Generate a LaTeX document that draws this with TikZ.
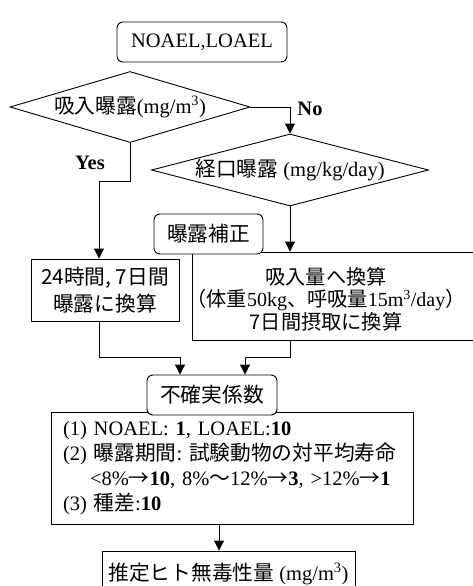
\documentclass[tikz,border=0pt]{standalone}
\usepackage{fontspec}
\setmainfont{Liberation Serif}
\newfontfamily\jp{Noto Sans CJK JP}[Scale=1.01]
\newcommand{\J}[1]{{\jp #1}}
\usetikzlibrary{shapes.geometric,arrows.meta}
\begin{document}
\begin{tikzpicture}[x=1pt,y=-1pt,
  font=\fontsize{20.5}{22}\selectfont,
  line width=0.9pt,
  >={Triangle[length=10pt,width=10pt]},
  box/.style={draw, fill=white, inner sep=0pt, align=center},
  rbox/.style={box, rounded corners=6pt},
  dia/.style={draw, diamond, aspect=3.8, inner sep=0pt, fill=white},
  lbl/.style={font=\fontsize{20.5}{22}\selectfont\bfseries}]
\useasboundingbox (0,0) rectangle (473,586);

\node[rbox, minimum width=170pt, minimum height=40pt] (start) at (202,42) {NOAEL,LOAEL};
\node[dia, minimum width=240pt, minimum height=71pt] (d1) at (130,107) {\J{吸入曝露}(mg/m\textsuperscript{3})};
\node[dia, minimum width=277pt, minimum height=72pt] (d2) at (290,170) {\J{経口曝露} (mg/kg/day)};

\node[box, minimum width=148pt, minimum height=62pt, font=\fontsize{20.5}{27}\selectfont] (b1) at (105,290) {\J{24時間, 7日間}\\\J{曝露に換算}};
\node[box, minimum width=284pt, minimum height=88pt] (b2) at (334,296) {};
\node[align=center, inner sep=0pt, font=\fontsize{20}{22.5}\selectfont] (b2t) at (326,299)
  {\J{吸入量へ換算}\\\J{（体重}50kg\J{、呼吸量}15m\textsuperscript{3}/day\J{）}\\\J{7日間摂取に換算}};
\node[rbox, minimum width=109pt, minimum height=40pt] (hs) at (208.5,234) {\J{曝露補正}};

\node[box, align=left, text width=338pt, inner xsep=12pt, inner ysep=0pt, minimum height=112pt,
  font=\fontsize{20.5}{25}\selectfont] (lst) at (232,468)
  {(1) NOAEL: \textbf{1}, LOAEL:\textbf{10}\\
   (2) \J{曝露期間}:\ \J{試験動物の対平均寿命}\\
   \hspace*{27pt}<8\%\J{→}\textbf{10}, 8\%\J{～}12\%\J{→}\textbf{3}, >12\%\J{→}\textbf{1}\\
   (3) \J{種差}:\textbf{10}};
\node[rbox, minimum width=130pt, minimum height=40pt] (fk) at (212,395) {\J{不確実係数}};

\node[box, minimum width=253pt, minimum height=46pt] (bt) at (228.5,574) {\J{推定ヒト無毒性量} (mg/m\textsuperscript{3})};

\coordinate (yb) at (99,181);
\coordinate (m1) at (99,357);
\coordinate (m2) at (290,357);
\coordinate (f1) at (180,0);
\coordinate (f2) at (245,0);
\coordinate (ax) at (219,0);

\draw[->] (d1.east) -| (d2.north);
\node[lbl] at (310,109) {No};
\draw[->] (d1.south) |- (yb) -- (yb |- b1.north);
\node[lbl] at (90,163) {Yes};
\draw[->] (d2.south) -- (d2.south |- b2.north);
\draw[->] (yb |- b1.south) -- (m1) -| (f1 |- fk.north);
\draw[->] (m2 |- b2.south) -- (m2) -| (f2 |- fk.north);
\draw[->] (ax |- lst.south) -- (ax |- bt.north);
\end{tikzpicture}
\end{document}
